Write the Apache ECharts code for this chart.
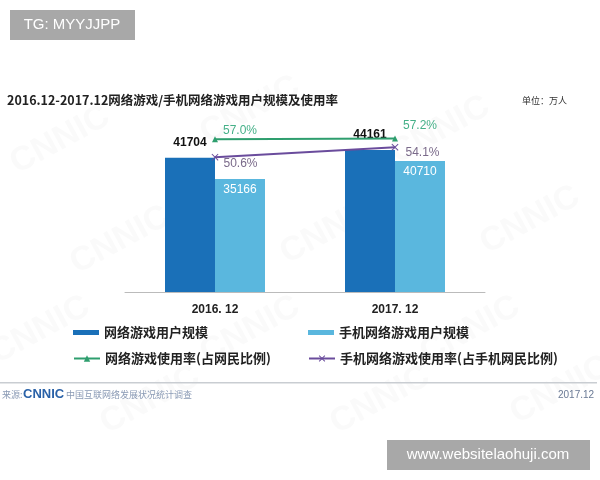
<!DOCTYPE html>
<html><head><meta charset="utf-8">
<script src="https://cdn.jsdelivr.net/npm/echarts@6/dist/echarts.min.js"></script>
<style>html,body{margin:0;padding:0;background:#fff}#c{width:600px;height:480px}</style>
</head><body><div id="c"></div>
<script>
var categories = ['2016. 12', '2017. 12'];
var gameUsers = [41704, 44161];
var mobileGameUsers = [35166, 40710];
var gameRate = [57.0, 57.2];
var mobileGameRate = [50.6, 54.1];
var names = ['网络游戏用户规模', '手机网络游戏用户规模', '网络游戏使用率(占网民比例)', '手机网络游戏使用率(占手机网民比例)'];

var CJK = '"Noto Sans CJK SC", sans-serif';
var xSym = 'path://M0,1L1,0L5,4L9,0L10,1L6,5L10,9L9,10L5,6L1,10L0,9L4,5Z';

var chart = echarts.init(document.getElementById('c'));
var wm = [];
[[60,140],[250,110],[440,130],[120,240],[330,230],[530,220],[40,330],[250,330],[470,330],[150,400],[380,400],[560,390]].forEach(function(p){
  wm.push({type:'text', x:p[0], y:p[1], rotation:0.5, z:-10, style:{text:'CNNIC', font:'bold 34px Arial', fill:'rgba(180,180,180,0.07)', textAlign:'center', textVerticalAlign:'middle'}});
});
var legText = {fontFamily: CJK, fontSize: 13, fontWeight: 'bold', color: '#222'};
chart.setOption({
  animation: false,
  backgroundColor: '#fff',
  grid: {left: 125, right: 115, top: 99, bottom: 188},
  title: {text: '2016.12-2017.12网络游戏/手机网络游戏用户规模及使用率', left: 2, top: 89,
    textStyle: {fontFamily: CJK, fontSize: 12.5, fontWeight: 'bold', color: '#222'}},
  legend: [
    {data: [names[0]], left: 68, top: 321, itemWidth: 26, itemHeight: 5, icon: 'rect', textStyle: legText},
    {data: [names[1]], left: 303, top: 321, itemWidth: 26, itemHeight: 5, icon: 'rect', textStyle: legText},
    {data: [names[2]], left: 68, top: 347, itemWidth: 26, itemHeight: 8, textStyle: legText},
    {data: [names[3]], left: 303, top: 347, itemWidth: 26, itemHeight: 8, textStyle: legText}
  ],
  xAxis: {type: 'category', data: categories,
    axisLine: {lineStyle: {color: '#bbb'}}, axisTick: {show: false},
    axisLabel: {color: '#222', fontWeight: 'bold', fontSize: 12, margin: 12, fontFamily: 'Arial'}},
  yAxis: [
    {type: 'value', min: 0, max: 60000, show: false, splitLine: {show: false}},
    {type: 'value', min: 2.6, max: 71.3, show: false, splitLine: {show: false}}
  ],
  series: [
    {name: names[0], type: 'bar', data: gameUsers, barWidth: 50, barGap: '0%', itemStyle: {color: '#1a70b8'},
      label: {show: true, position: 'top', distance: 9, color: '#111', fontWeight: 'bold', fontSize: 12, fontFamily: 'Arial'}},
    {name: names[1], type: 'bar', data: mobileGameUsers, barWidth: 50, itemStyle: {color: '#5ab7de'},
      label: {show: true, position: 'insideTop', distance: 5, color: '#fff', fontSize: 12, fontFamily: 'Arial'}},
    {name: names[2], type: 'line', yAxisIndex: 1, symbol: 'triangle', symbolSize: 6,
      lineStyle: {color: '#2e9e6e', width: 2}, itemStyle: {color: '#2e9e6e'},
      data: [
        {value: gameRate[0], label: {offset: [0, -8]}},
        {value: gameRate[1], label: {offset: [0, -13]}}
      ],
      label: {show: true, position: 'right', distance: 5, color: '#45b088', fontSize: 12, fontFamily: 'Arial', formatter: function(p){return p.value.toFixed(1) + '%';}}},
    {name: names[3], type: 'line', yAxisIndex: 1, symbol: xSym, symbolSize: 7,
      lineStyle: {color: '#6a4c9c', width: 2}, itemStyle: {color: '#6a4c9c'},
      data: [
        {value: mobileGameRate[0], label: {offset: [0, 7]}},
        {value: mobileGameRate[1], label: {offset: [2, 5]}}
      ],
      label: {show: true, position: 'right', distance: 5, color: '#7a6a8a', fontSize: 12, fontFamily: 'Arial', formatter: function(p){return p.value.toFixed(1) + '%';}}}
  ],
  graphic: wm.concat([
    {type: 'text', x: 522, y: 96, style: {text: '单位：万人', font: '9px "Noto Sans CJK SC"', fill: '#333'}},
    {type: 'rect', shape: {x: 0, y: 382, width: 597, height: 1.5}, style: {fill: '#c9cdd2'}},
    {type: 'text', x: 2, y: 390, style: {text: '来源:', font: '9px "Noto Sans CJK SC"', fill: '#8a9ab5'}},
    {type: 'text', x: 23, y: 388, style: {text: 'CNNIC', font: 'bold 13px Arial', fill: '#2a62a8'}},
    {type: 'text', x: 66, y: 390, style: {text: '中国互联网络发展状况统计调查', font: '9px "Noto Sans CJK SC"', fill: '#8a9ab5'}},
    {type: 'text', x: 558, y: 390, style: {text: '2017.12', font: '10px Arial', fill: '#6a7a95'}},
    {type: 'rect', shape: {x: 10, y: 10, width: 125, height: 30}, style: {fill: '#a8a8a8'}},
    {type: 'text', x: 72, y: 25, style: {text: 'TG: MYYJJPP', font: '15px Arial', fill: '#fff', textAlign: 'center', textVerticalAlign: 'middle'}},
    {type: 'rect', shape: {x: 387, y: 440, width: 203, height: 30}, style: {fill: '#a8a8a8'}},
    {type: 'text', x: 488, y: 455, style: {text: 'www.websitelaohuji.com', font: '15px Arial', fill: '#fff', textAlign: 'center', textVerticalAlign: 'middle'}}
  ])
});
</script></body></html>
